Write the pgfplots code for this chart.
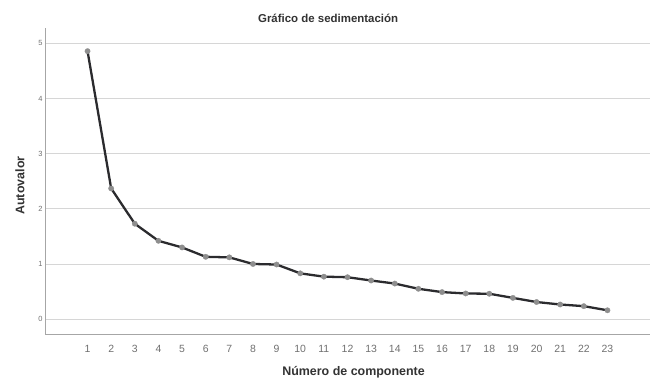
\documentclass[border=0pt]{standalone}
\usepackage{pgfplots}
\pgfplotsset{compat=1.18}
\usepackage{fontspec}
\setmainfont{Liberation Sans}
\definecolor{linec}{HTML}{2B2B2E}
\definecolor{markc}{HTML}{8E8E8E}
\definecolor{gridc}{HTML}{D6D6D6}
\definecolor{axc}{HTML}{A6A6A6}
\definecolor{tickc}{HTML}{707070}
\definecolor{labc}{HTML}{333333}
\begin{document}
\begin{tikzpicture}
\path[use as bounding box] (0,0) rectangle (669bp,389bp);
\begin{axis}[
  at={(45bp,55bp)}, anchor=south west,
  scale only axis, width=605bp, height=306bp,
  xmin=-0.8, xmax=24.8, ymin=-0.27, ymax=5.28,
  axis lines*=left,
  axis line style={axc, line width=0.9pt, -},
  xtick={1,...,23}, ytick={0,1,2,3,4,5},
  major tick length=0pt,
  ymajorgrids, grid style={gridc, line width=0.8pt},
  /pgf/number format/assume math mode=true,
  xticklabel style={font=\fontsize{10.5}{12}\selectfont, text=tickc, yshift=-8bp},
  yticklabel style={font=\fontsize{7.5}{9}\selectfont, text=tickc, xshift=1bp},
  every axis title shift=0pt,
  title={\textbf{Gráfico de sedimentación}},
  title style={font=\fontsize{11.5}{14}\selectfont, text=labc, at={(axis description cs:0.468,1)}, anchor=center, yshift=10bp},
  xlabel={\textbf{Número de componente}},
  xlabel style={font=\fontsize{12.5}{14}\selectfont, text=labc, at={(axis description cs:0.51,0)}, anchor=center, yshift=-38bp},
  ylabel={\textbf{Autovalor}},
  ylabel style={font=\fontsize{12.5}{14}\selectfont, text=labc, at={(axis description cs:-0.0413,0.485)}, anchor=center},
  clip=false,
]
\addplot[linec, line width=2.3pt, mark=*, mark size=2.7bp, mark options={solid, fill=markc, draw=markc, line width=0.3pt}] coordinates {
(1,4.86) (2,2.37) (3,1.73) (4,1.42) (5,1.30) (6,1.13) (7,1.12) (8,1.00)
(9,0.99) (10,0.83) (11,0.77) (12,0.76) (13,0.70) (14,0.645) (15,0.55)
(16,0.49) (17,0.465) (18,0.46) (19,0.385) (20,0.31) (21,0.265) (22,0.235) (23,0.16)
};
\end{axis}
\end{tikzpicture}
\end{document}
